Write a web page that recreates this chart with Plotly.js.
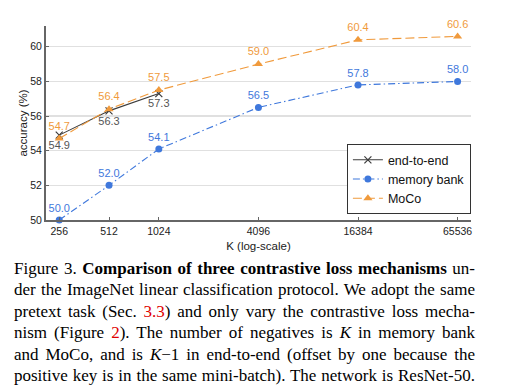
<!DOCTYPE html>
<html>
<head>
<meta charset="utf-8">
<script src="https://cdn.plot.ly/plotly-3.0.1.min.js"></script>
<style>
html,body{margin:0;padding:0;background:#fff;}
#chart{position:absolute;left:0;top:0;width:506px;height:386px;}
#cap{position:absolute;left:14px;top:258px;width:461px;font-family:"Liberation Serif","Times New Roman",serif;font-size:17px;line-height:21.4px;color:#000;}
#cap div{text-align:justify;text-align-last:justify;white-space:nowrap;}
.red{color:#e00000;}
</style>
</head>
<body>
<div id="chart"></div>
<div id="cap">
<div>Figure 3. <b>Comparison of three contrastive loss mechanisms</b> un-</div>
<div>der the ImageNet linear classification protocol. We adopt the same</div>
<div>pretext task (Sec. <span class="red">3.3</span>) and only vary the contrastive loss mecha-</div>
<div>nism (Figure <span class="red">2</span>). The number of negatives is <i>K</i> in memory bank</div>
<div>and MoCo, and is <i>K</i>&minus;1 in end-to-end (offset by one because the</div>
<div>positive key is in the same mini-batch). The network is ResNet-50.</div>
</div>
<script>
const kValues = [256, 512, 1024, 4096, 16384, 65536];
const kLabels = ["256", "512", "1024", "4096", "16384", "65536"];
const endK = [256, 512, 1024];
const endToEnd = [54.9, 56.3, 57.3];
const memoryBank = [50.0, 52.0, 54.1, 56.5, 57.8, 58.0];
const moco = [54.7, 56.4, 57.5, 59.0, 60.4, 60.6];
const yTicks = [50, 52, 54, 56, 58, 60];

const cGray = "#3c3c3c", cBlue = "#3f78dc", cOrange = "#f09a3c";
const fmt = a => a.map(v => v.toFixed(1));

const traces = [
  {x: endK, y: endToEnd, name: "end-to-end", mode: "lines+markers+text",
   text: fmt(endToEnd), textposition: "bottom center", cliponaxis: false,
   textfont: {color: "#555", size: 11, family: "Liberation Sans, Arial"},
   line: {color: cGray, width: 1.1}, marker: {symbol: "x-thin", size: 7, line: {color: cGray, width: 1.2}, color: cGray}},
  {x: kValues, y: memoryBank, name: "memory bank", mode: "lines+markers+text",
   text: fmt(memoryBank), textposition: "top center", cliponaxis: false,
   textfont: {color: cBlue, size: 11, family: "Liberation Sans, Arial"},
   line: {color: cBlue, width: 1.1, dash: "7px,3px,1.5px,3px"}, marker: {symbol: "circle", size: 7, color: cBlue}},
  {x: kValues, y: moco, name: "MoCo", mode: "lines+markers+text",
   text: fmt(moco), textposition: "top center", cliponaxis: false,
   textfont: {color: cOrange, size: 11, family: "Liberation Sans, Arial"},
   line: {color: cOrange, width: 1.1, dash: "9px,4px"}, marker: {symbol: "triangle-up", size: 8, color: cOrange}}
];

const layout = {
  width: 506, height: 386,
  margin: {l: 46, r: 35.3, t: 26, b: 166},
  paper_bgcolor: "#fff", plot_bgcolor: "#fff",
  font: {family: "Liberation Sans, Arial", color: "#222", size: 10.5},
  showlegend: true,
  legend: {x: 0.708, y: 0.03, xanchor: "left", yanchor: "bottom",
    bgcolor: "#fff", bordercolor: "#333", borderwidth: 1,
    font: {size: 12.5, color: "#111"}, tracegroupgap: 0, itemwidth: 30},
  xaxis: {type: "log", range: [Math.log10(256) - 0.08, Math.log10(65536) + 0.081],
    tickvals: kValues, ticktext: kLabels, showgrid: false, zeroline: false,
    showline: true, linecolor: "#666", linewidth: 2,
    ticks: "inside", ticklen: 3, tickcolor: "#666",
    title: {text: "K (log-scale)", font: {size: 11.5}, standoff: 6}},
  yaxis: {range: [50, 61.2], tickvals: yTicks, showgrid: true, gridcolor: "#e0e0e0", gridwidth: 1.3,
    zeroline: false, showline: true, linecolor: "#666", linewidth: 2,
    ticks: "inside", ticklen: 3, tickcolor: "#666",
    title: {text: "accuracy (%)", font: {size: 11.5}, standoff: 0}}
};

Plotly.newPlot("chart", traces, layout, {displayModeBar: false, staticPlot: true});
</script>
</body>
</html>
